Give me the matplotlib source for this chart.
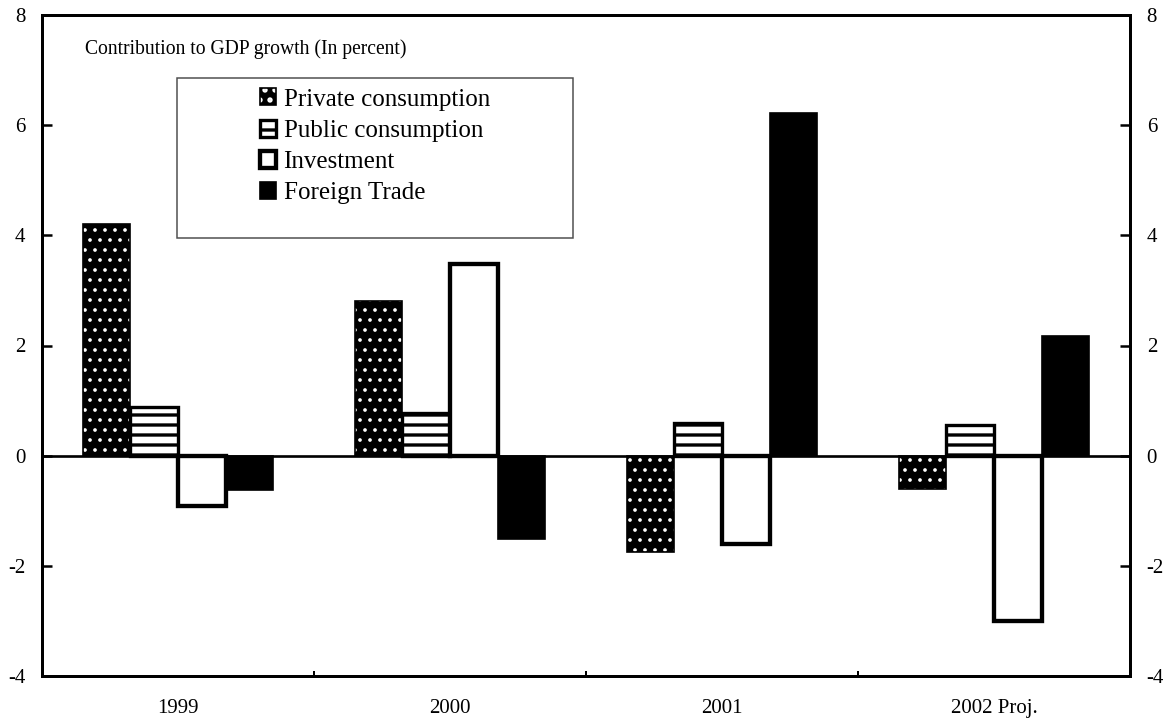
import numpy as np
import matplotlib
matplotlib.use("Agg")
import matplotlib.pyplot as plt
from matplotlib.patches import Patch, Rectangle
from matplotlib.legend_handler import HandlerTuple

# Contribution to GDP growth, percentage points
years = ["1999", "2000", "2001", "2002 Proj."]
private_cons = [4.2, 2.8, -1.75, -0.6]
public_cons = [0.88, 0.78, 0.6, 0.55]
investment = [-0.92, 3.48, -1.6, -3.0]
foreign_trade = [-0.62, -1.52, 6.22, 2.18]

plt.rcParams["font.family"] = ["Liberation Serif", "DejaVu Serif"]
plt.rcParams["axes.unicode_minus"] = False
plt.rcParams["hatch.linewidth"] = 2.0

fig = plt.figure(figsize=(9.8, 6.025), dpi=120)
ax = fig.add_axes([42 / 1176, 47 / 723, 1088 / 1176, 661 / 723])

x = np.arange(len(years))
w = 0.175
offsets = [-1.5 * w, -0.5 * w, 0.5 * w, 1.5 * w]

# Private consumption: black with small white dots
with plt.rc_context({"hatch.linewidth": 1.0}):
    ax.bar(x + offsets[0], private_cons, w, color="black",
           edgecolor="white", hatch="..", linewidth=0)
    pc_dots = Patch(facecolor="black", edgecolor="white", hatch="..",
                    linewidth=0)
ax.bar(x + offsets[0], private_cons, w, fill=False,
       edgecolor="black", linewidth=1)

# Public consumption: horizontal stripes
ax.bar(x + offsets[1], public_cons, w, color="white",
       edgecolor="black", hatch="--", linewidth=2)

# Investment: open bar with heavy outline
ax.bar(x + offsets[2], investment, w, color="white",
       edgecolor="black", linewidth=2.6)

# Foreign trade: solid black
ax.bar(x + offsets[3], foreign_trade, w, color="black",
       edgecolor="black", linewidth=1)

ax.axhline(0, color="black", linewidth=1.6, zorder=3)

ax.set_xlim(-0.5, len(years) - 0.5)
ax.set_ylim(-4, 8)
ax.set_yticks(range(-4, 9, 2))
ax.set_xticks(x)
ax.set_xticklabels(years, fontsize=12.5)
ax.set_xticks(x[:-1] + 0.5, minor=True)
ax.tick_params(axis="x", which="major", length=0, pad=14)
ax.tick_params(axis="x", which="minor", direction="in", length=3, width=1.2)
ax.tick_params(axis="y", direction="in", length=6, width=1.5,
               labelsize=12.5, left=True, right=True,
               labelleft=True, labelright=True, pad=10)

for s in ax.spines.values():
    s.set_linewidth(1.8)

ax.text(0.0395, 0.948, "Contribution to GDP growth (In percent)",
        transform=ax.transAxes, fontsize=11.75, va="center", ha="left")

# Legend frame
ax.add_patch(Rectangle((0.124, 0.663), 0.364, 0.242, transform=ax.transAxes,
                       fill=False, edgecolor="0.3", linewidth=0.9))

handles = [
    (pc_dots, Patch(fill=False, edgecolor="black", linewidth=1)),
    Patch(facecolor="white", edgecolor="black", hatch="-", linewidth=2),
    Patch(facecolor="white", edgecolor="black", linewidth=2.6),
    Patch(facecolor="black", edgecolor="black"),
]
labels = ["Private consumption", "Public consumption",
          "Investment", "Foreign Trade"]
fig.legend(handles, labels, loc="upper left",
           bbox_to_anchor=(247 / 1176, 1 - 76 / 723),
           frameon=False, fontsize=15, handlelength=0.66, handleheight=0.66,
           handletextpad=0.3, labelspacing=0.36, borderpad=0,
           handler_map={tuple: HandlerTuple(ndivide=1)})

fig.savefig("out.png", dpi=120, facecolor="white")
